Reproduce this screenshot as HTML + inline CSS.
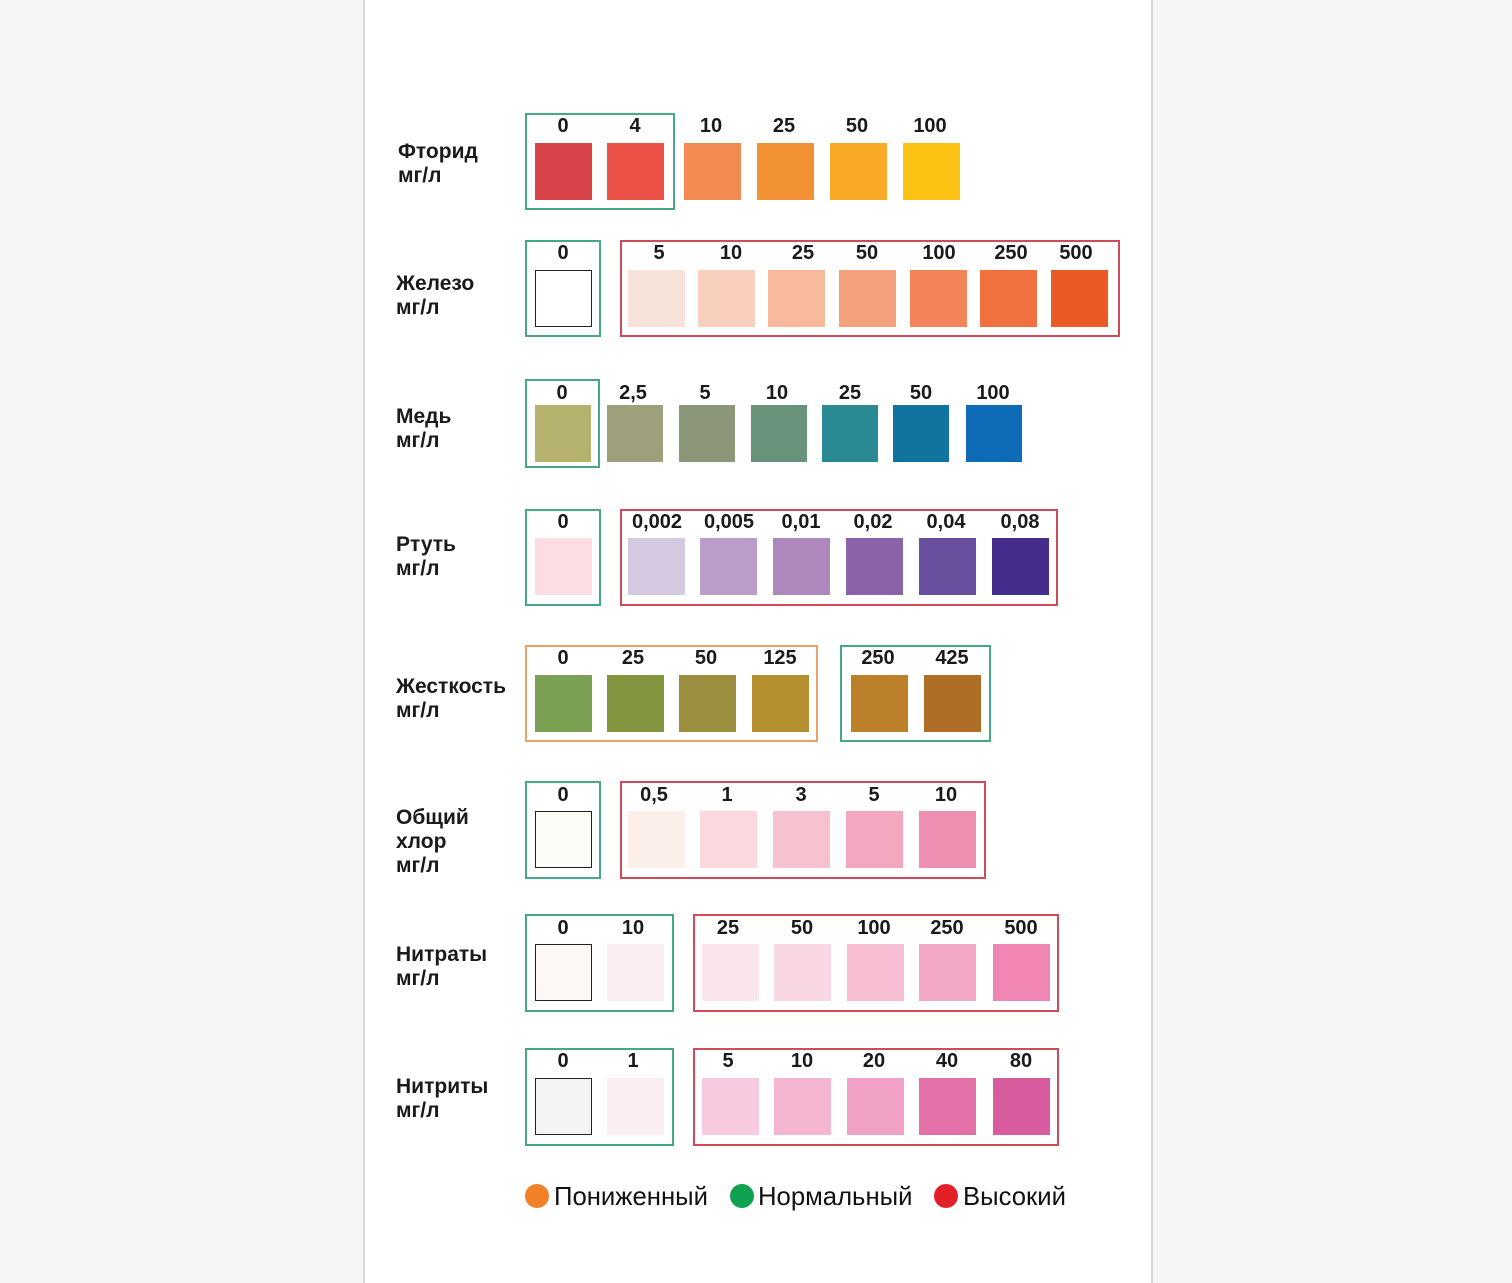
<!DOCTYPE html>
<html><head><meta charset="utf-8">
<style>
html,body{margin:0;padding:0}
body{width:1512px;height:1283px;background:#f6f6f6;position:relative;overflow:hidden;font-family:"Liberation Sans",Arial,sans-serif;color:#1a1a1a}
.panel{position:absolute;left:363px;top:0;width:790px;height:1283px;background:#fff;box-sizing:border-box;border-left:2px solid #d8d8d8;border-right:2px solid #d8d8d8}
.b{position:absolute;box-sizing:border-box;border:2px solid}
.g{border-color:#45a888}
.r{border-color:#d04a5a}
.o{border-color:#eba168}
.s{position:absolute;width:57px;height:57px;box-sizing:border-box}
.k{border:1.5px solid #222}
.n{position:absolute;width:90px;text-align:center;font-weight:bold;font-size:20px;line-height:20px}
.l{position:absolute;font-weight:bold;font-size:21px;line-height:24px;white-space:nowrap}
.dot{position:absolute;width:24px;height:24px;border-radius:50%}
.lg{position:absolute;font-size:25.7px;line-height:28px;white-space:nowrap;color:#111}
</style></head><body>
<div class="panel"></div>

<!-- Row 1 Фторид -->
<div class="l" style="left:398px;top:140px">Фторид<br>мг/л</div>
<div class="b g" style="left:525px;top:113px;width:150px;height:97px"></div>
<div class="n" style="left:518px;top:116px">0</div>
<div class="n" style="left:590px;top:116px">4</div>
<div class="n" style="left:666px;top:116px">10</div>
<div class="n" style="left:739px;top:116px">25</div>
<div class="n" style="left:812px;top:116px">50</div>
<div class="n" style="left:885px;top:116px">100</div>
<div class="s" style="left:535px;top:143px;background:#d94448"></div>
<div class="s" style="left:607px;top:143px;background:#ec5147"></div>
<div class="s" style="left:684px;top:143px;background:#f38a52"></div>
<div class="s" style="left:757px;top:143px;background:#f39135"></div>
<div class="s" style="left:830px;top:143px;background:#f8a925"></div>
<div class="s" style="left:903px;top:143px;background:#fbc113"></div>

<!-- Row 2 Железо -->
<div class="l" style="left:396px;top:272px">Железо<br>мг/л</div>
<div class="b g" style="left:525px;top:240px;width:76px;height:97px"></div>
<div class="b r" style="left:620px;top:240px;width:500px;height:97px"></div>
<div class="n" style="left:518px;top:243px">0</div>
<div class="n" style="left:614px;top:243px">5</div>
<div class="n" style="left:686px;top:243px">10</div>
<div class="n" style="left:758px;top:243px">25</div>
<div class="n" style="left:822px;top:243px">50</div>
<div class="n" style="left:894px;top:243px">100</div>
<div class="n" style="left:966px;top:243px">250</div>
<div class="n" style="left:1031px;top:243px">500</div>
<div class="s k" style="left:535px;top:270px;background:#fff"></div>
<div class="s" style="left:628px;top:270px;background:#f7e3da"></div>
<div class="s" style="left:698px;top:270px;background:#f9d0bd"></div>
<div class="s" style="left:768px;top:270px;background:#f8b99c"></div>
<div class="s" style="left:839px;top:270px;background:#f5a07c"></div>
<div class="s" style="left:910px;top:270px;background:#f28459"></div>
<div class="s" style="left:980px;top:270px;background:#f0713f"></div>
<div class="s" style="left:1051px;top:270px;background:#ea5a24"></div>

<!-- Row 3 Медь -->
<div class="l" style="left:396px;top:405px">Медь<br>мг/л</div>
<div class="b g" style="left:525px;top:379px;width:75px;height:89px"></div>
<div class="n" style="left:517px;top:383px">0</div>
<div class="n" style="left:588px;top:383px">2,5</div>
<div class="n" style="left:660px;top:383px">5</div>
<div class="n" style="left:732px;top:383px">10</div>
<div class="n" style="left:805px;top:383px">25</div>
<div class="n" style="left:876px;top:383px">50</div>
<div class="n" style="left:948px;top:383px">100</div>
<div class="s" style="left:535px;top:405px;width:56px;background:#b5b26d"></div>
<div class="s" style="left:607px;top:405px;width:56px;background:#9da07a"></div>
<div class="s" style="left:679px;top:405px;width:56px;background:#8c977a"></div>
<div class="s" style="left:751px;top:405px;width:56px;background:#68927a"></div>
<div class="s" style="left:822px;top:405px;width:56px;background:#2a8a94"></div>
<div class="s" style="left:893px;top:405px;width:56px;background:#11739f"></div>
<div class="s" style="left:966px;top:405px;width:56px;background:#0e6bb7"></div>

<!-- Row 4 Ртуть -->
<div class="l" style="left:396px;top:533px">Ртуть<br>мг/л</div>
<div class="b g" style="left:525px;top:509px;width:76px;height:97px"></div>
<div class="b r" style="left:620px;top:509px;width:438px;height:97px"></div>
<div class="n" style="left:518px;top:512px">0</div>
<div class="n" style="left:612px;top:512px">0,002</div>
<div class="n" style="left:684px;top:512px">0,005</div>
<div class="n" style="left:756px;top:512px">0,01</div>
<div class="n" style="left:828px;top:512px">0,02</div>
<div class="n" style="left:901px;top:512px">0,04</div>
<div class="n" style="left:975px;top:512px">0,08</div>
<div class="s" style="left:535px;top:538px;background:#fbdde3"></div>
<div class="s" style="left:628px;top:538px;background:#d6c9e2"></div>
<div class="s" style="left:700px;top:538px;background:#bb9dc9"></div>
<div class="s" style="left:773px;top:538px;background:#ae88bd"></div>
<div class="s" style="left:846px;top:538px;background:#8b63a9"></div>
<div class="s" style="left:919px;top:538px;background:#6a4f9e"></div>
<div class="s" style="left:992px;top:538px;background:#462c8b"></div>

<!-- Row 5 Жесткость -->
<div class="l" style="left:396px;top:675px">Жесткость<br>мг/л</div>
<div class="b o" style="left:525px;top:645px;width:293px;height:97px"></div>
<div class="b g" style="left:840px;top:645px;width:151px;height:97px"></div>
<div class="n" style="left:518px;top:648px">0</div>
<div class="n" style="left:588px;top:648px">25</div>
<div class="n" style="left:661px;top:648px">50</div>
<div class="n" style="left:735px;top:648px">125</div>
<div class="n" style="left:833px;top:648px">250</div>
<div class="n" style="left:907px;top:648px">425</div>
<div class="s" style="left:535px;top:675px;background:#7aa054"></div>
<div class="s" style="left:607px;top:675px;background:#83963f"></div>
<div class="s" style="left:679px;top:675px;background:#9a8f3f"></div>
<div class="s" style="left:752px;top:675px;background:#b38f2e"></div>
<div class="s" style="left:851px;top:675px;background:#bc7f2a"></div>
<div class="s" style="left:924px;top:675px;background:#b06d26"></div>

<!-- Row 6 Общий хлор -->
<div class="l" style="left:396px;top:806px">Общий<br>хлор<br>мг/л</div>
<div class="b g" style="left:525px;top:781px;width:76px;height:98px"></div>
<div class="b r" style="left:620px;top:781px;width:366px;height:98px"></div>
<div class="n" style="left:518px;top:785px">0</div>
<div class="n" style="left:609px;top:785px">0,5</div>
<div class="n" style="left:682px;top:785px">1</div>
<div class="n" style="left:756px;top:785px">3</div>
<div class="n" style="left:829px;top:785px">5</div>
<div class="n" style="left:901px;top:785px">10</div>
<div class="s k" style="left:535px;top:811px;background:#fdfdf8"></div>
<div class="s" style="left:628px;top:811px;background:#fcefe9"></div>
<div class="s" style="left:700px;top:811px;background:#fad8de"></div>
<div class="s" style="left:773px;top:811px;background:#f6c2cf"></div>
<div class="s" style="left:846px;top:811px;background:#f3a8c0"></div>
<div class="s" style="left:919px;top:811px;background:#ee8eb0"></div>

<!-- Row 7 Нитраты -->
<div class="l" style="left:396px;top:943px">Нитраты<br>мг/л</div>
<div class="b g" style="left:525px;top:914px;width:149px;height:98px"></div>
<div class="b r" style="left:693px;top:914px;width:366px;height:98px"></div>
<div class="n" style="left:518px;top:918px">0</div>
<div class="n" style="left:588px;top:918px">10</div>
<div class="n" style="left:683px;top:918px">25</div>
<div class="n" style="left:757px;top:918px">50</div>
<div class="n" style="left:829px;top:918px">100</div>
<div class="n" style="left:902px;top:918px">250</div>
<div class="n" style="left:976px;top:918px">500</div>
<div class="s k" style="left:535px;top:944px;background:#fdf8f5"></div>
<div class="s" style="left:607px;top:944px;background:#fbeef2"></div>
<div class="s" style="left:702px;top:944px;background:#fbe5ed"></div>
<div class="s" style="left:774px;top:944px;background:#f9d6e3"></div>
<div class="s" style="left:847px;top:944px;background:#f6bdd3"></div>
<div class="s" style="left:919px;top:944px;background:#f3a9c6"></div>
<div class="s" style="left:993px;top:944px;background:#ef86b4"></div>

<!-- Row 8 Нитриты -->
<div class="l" style="left:396px;top:1075px">Нитриты<br>мг/л</div>
<div class="b g" style="left:525px;top:1048px;width:149px;height:98px"></div>
<div class="b r" style="left:693px;top:1048px;width:366px;height:98px"></div>
<div class="n" style="left:518px;top:1051px">0</div>
<div class="n" style="left:588px;top:1051px">1</div>
<div class="n" style="left:683px;top:1051px">5</div>
<div class="n" style="left:757px;top:1051px">10</div>
<div class="n" style="left:829px;top:1051px">20</div>
<div class="n" style="left:902px;top:1051px">40</div>
<div class="n" style="left:976px;top:1051px">80</div>
<div class="s k" style="left:535px;top:1078px;background:#f3f3f3"></div>
<div class="s" style="left:607px;top:1078px;background:#fbeef2"></div>
<div class="s" style="left:702px;top:1078px;background:#f7cadf"></div>
<div class="s" style="left:774px;top:1078px;background:#f4b5d0"></div>
<div class="s" style="left:847px;top:1078px;background:#f2a1c6"></div>
<div class="s" style="left:919px;top:1078px;background:#e470a8"></div>
<div class="s" style="left:993px;top:1078px;background:#d85b9e"></div>

<!-- Legend -->
<div class="dot" style="left:525px;top:1184px;background:#f08126"></div>
<div class="lg" style="left:554px;top:1183px">Пониженный</div>
<div class="dot" style="left:730px;top:1184px;background:#10a150"></div>
<div class="lg" style="left:758px;top:1183px">Нормальный</div>
<div class="dot" style="left:934px;top:1184px;background:#e3202a"></div>
<div class="lg" style="left:963px;top:1183px">Высокий</div>
</body></html>
